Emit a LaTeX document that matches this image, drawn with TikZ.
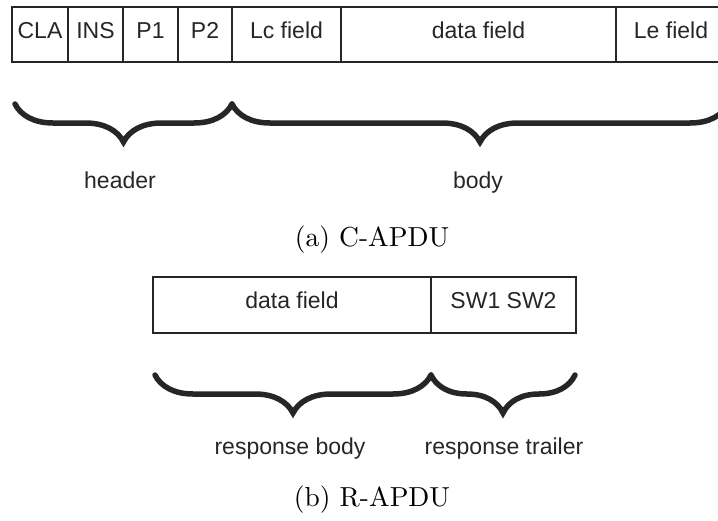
\documentclass[tikz,border=0pt]{standalone}
\usepackage{fontspec}
\usepackage{graphicx}
\newfontfamily\arialfont{Liberation Sans}
\usetikzlibrary{decorations.pathreplacing}
\definecolor{ink}{HTML}{262626}
\tikzset{
  cell/.style={draw=ink, line width=1.6pt, rectangle, inner sep=0pt,
    font=\arialfont\fontsize{23}{27}\selectfont, text=ink,
    text height=0.72em, text depth=0pt},
  lbl/.style={font=\arialfont\fontsize{23}{27}\selectfont, text=ink, anchor=base, inner sep=0pt},
  capt/.style={text=black, anchor=base, inner sep=0pt},
  curly/.style={draw=ink, line width=5.5pt, line cap=round,
    decorate, decoration={brace, mirror, amplitude=38pt}}
}
\begin{document}
\begin{tikzpicture}[x=1pt,y=-1pt]
\useasboundingbox (0,0) rectangle (718,520);
\clip (0,0) rectangle (718,520);
% C-APDU fields
\node[cell, minimum width=56pt, minimum height=55pt] (cla) at (40,34.5) {CLA};
\node[cell, minimum width=55pt, minimum height=55pt] (ins) at (95.5,34.5) {INS};
\node[cell, minimum width=55pt, minimum height=55pt] (p1) at (150.5,34.5) {P1};
\node[cell, minimum width=54pt, minimum height=55pt] (p2) at (205,34.5) {P2};
\node[cell, minimum width=109pt, minimum height=55pt] (lc) at (286.5,34.5) {Lc field};
\node[cell, minimum width=275pt, minimum height=55pt] (data) at (478.5,34.5) {data field};
\node[cell, minimum width=110pt, minimum height=55pt] (le) at (671,34.5) {Le field};
% braces
\coordinate (h1) at (15,104);
\coordinate (h2) at (232,104);
\coordinate (b2) at (728,104);
\draw[curly] (h1) -- (h2);
\draw[curly] (h2) -- (b2);
\node[lbl] (header) at (120,188) {header};
\node[lbl] (body) at (478,188) {body};
\node[capt] (capa) at (372,246) {\scalebox{2.75}{(a) C-APDU}};
% R-APDU fields
\node[cell, minimum width=278pt, minimum height=56pt] (rdata) at (292,305) {data field};
\node[cell, minimum width=145pt, minimum height=56pt] (sw) at (503.5,305) {SW1 SW2};
\coordinate (r1) at (155,375);
\coordinate (r2) at (431,375);
\coordinate (r3) at (575,375);
\draw[curly] (r1) -- (r2);
\draw[curly] (r2) -- (r3);
\node[lbl] (rbody) at (290,454) {response body};
\node[lbl] (rtrail) at (504,454) {response trailer};
\node[capt] (capb) at (372,506) {\scalebox{2.75}{(b) R-APDU}};
\end{tikzpicture}
\end{document}
